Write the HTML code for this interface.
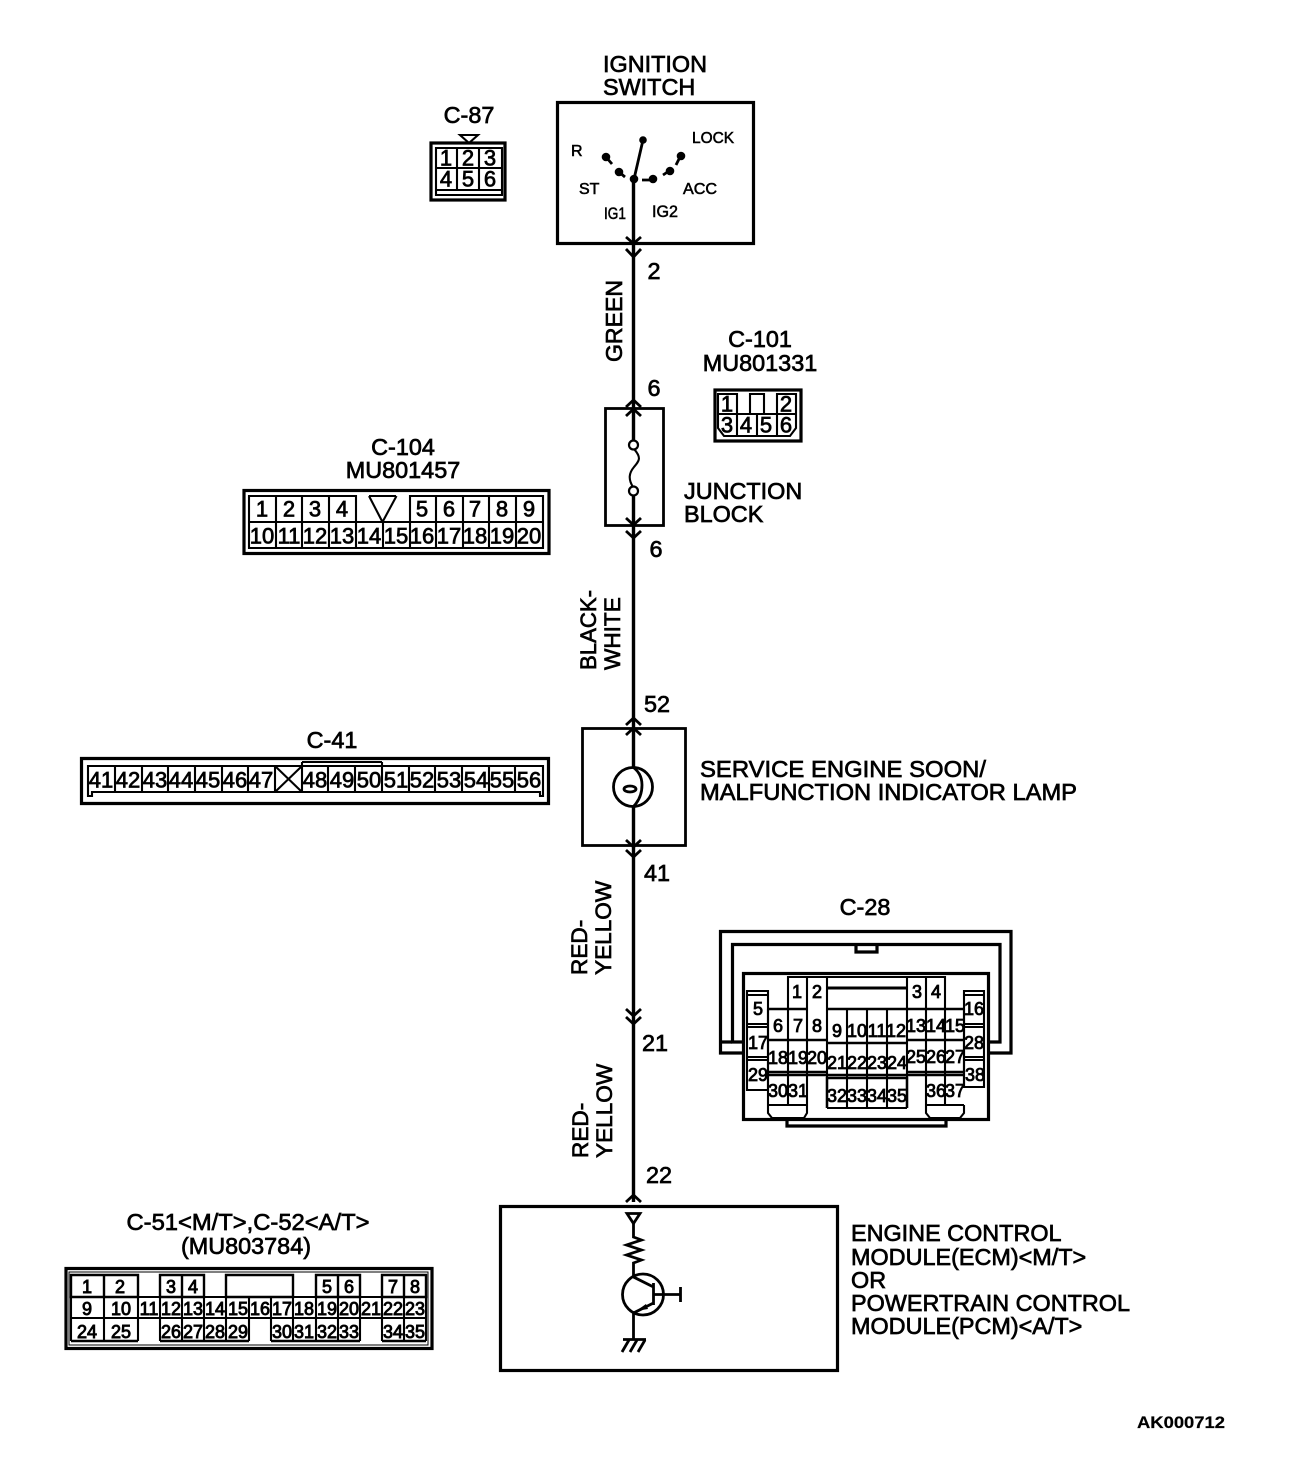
<!DOCTYPE html>
<html><head><meta charset="utf-8"><title>Diagram</title>
<style>
html,body{margin:0;padding:0;background:#fff}
svg{display:block}
text{font-family:"Liberation Sans",sans-serif;fill:#000;stroke:#000;stroke-width:.7px}
.l{font-size:23.4px}
.r{font-size:22.6px}
.m{font-size:16px;stroke-width:.55px}
.c text{font-size:22px;text-anchor:middle;dominant-baseline:central;stroke-width:.75px}
.s text{font-size:18px;text-anchor:middle;dominant-baseline:central;stroke-width:.9px}
.t text{font-size:18px;text-anchor:middle;dominant-baseline:central;stroke-width:.85px}
.a{text-anchor:middle}
.w{fill:none;stroke:#000;stroke-width:2.8}
.g{fill:none;stroke:#000;stroke-width:2.1}
.b{fill:none;stroke:#000;stroke-width:3.2}
</style></head><body>
<svg width="1312" height="1466" viewBox="0 0 1312 1466" xmlns="http://www.w3.org/2000/svg">
<rect width="1312" height="1466" fill="#fff"/>

<!-- main wire -->
<path d="M633.500 179V1202" stroke="#000" stroke-width="3.4" fill="none"/>
<g class="w">
<path d="M626 237l7.500 6.500 7.500-6.500M626 249l7.500 8 7.500-8"/>
<path d="M626 407l7.500-7 7.500 7M626 416l7.500-7 7.500 7"/>
<path d="M626 518l7.500 7 7.500-7M626 531l7.500 7 7.500-7"/>
<path d="M626 725l7.500-7 7.500 7M626 735l7.500-7 7.500 7"/>
<path d="M626 840l7.500 7 7.500-7M626 850l7.500 7 7.500-7"/>
<path d="M626 1009l7.500 7 7.500-7M626 1017l7.500 7 7.500-7"/>
<path d="M626 1202l7.500-7 7.500 7"/>
</g>

<!-- Ignition switch -->
<text class="l" x="603" y="72">IGNITION</text>
<text class="l" x="603" y="95">SWITCH</text>
<rect x="557.500" y="102.500" width="196" height="141" class="b"/>
<g fill="#000">
<circle cx="643" cy="140" r="3.800"/><circle cx="606" cy="157" r="4.300"/><circle cx="619" cy="172" r="4.300"/>
<circle cx="634" cy="179" r="4.300"/><circle cx="653" cy="179" r="4.300"/><circle cx="670" cy="171" r="4.300"/><circle cx="681" cy="156" r="4.300"/>
</g>
<path d="M634 179L643 140M606 157l6 7M619 172l6 5M642 180h8M663 175l6-4M676 165l3-6" class="w"/>
<text class="m" x="571" y="156">R</text>
<text class="m" x="692" y="143" textLength="42" lengthAdjust="spacingAndGlyphs">LOCK</text>
<text class="m" x="579" y="194">ST</text>
<text class="m" x="683" y="194" textLength="34" lengthAdjust="spacingAndGlyphs">ACC</text>
<text class="m" x="604" y="219" textLength="22" lengthAdjust="spacingAndGlyphs" style="font-size:17px">IG1</text>
<text class="m" x="652" y="217" textLength="26" lengthAdjust="spacingAndGlyphs" style="font-size:17px">IG2</text>

<!-- C-87 -->
<text class="l a" x="469" y="123">C-87</text>
<path d="M460 135h18l-9 8z" class="g"/>
<rect x="431" y="143" width="74" height="57" class="b"/>
<path d="M436 148h66v47h-66zM436 168h66M436 190h66M457 148v42M479 148v42" class="g"/>
<g class="c">
<text x="446" y="158">1</text><text x="468" y="158">2</text><text x="490" y="158">3</text>
<text x="446" y="179">4</text><text x="468" y="179">5</text><text x="490" y="179">6</text>
</g>

<!-- wire labels -->
<text class="l a" x="654" y="279">2</text>
<text class="l" transform="translate(622 362) rotate(-90)" textLength="82" lengthAdjust="spacingAndGlyphs">GREEN</text>
<text class="l a" x="654" y="396">6</text>
<text class="l a" x="656" y="557">6</text>
<text class="r" transform="translate(596 670) rotate(-90)" textLength="80" lengthAdjust="spacingAndGlyphs">BLACK-</text>
<text class="r" transform="translate(620 670) rotate(-90)">WHITE</text>
<text class="l a" x="657" y="712">52</text>
<text class="l a" x="657" y="881">41</text>
<text class="r" transform="translate(587 975) rotate(-90)">RED-</text>
<text class="r" transform="translate(611 975) rotate(-90)">YELLOW</text>
<text class="l a" x="655" y="1051">21</text>
<text class="r" transform="translate(588 1158) rotate(-90)">RED-</text>
<text class="r" transform="translate(612 1158) rotate(-90)">YELLOW</text>
<text class="l a" x="659" y="1183">22</text>

<!-- C-101 -->
<text class="l a" x="760" y="347">C-101</text>
<text class="l a" x="760" y="371">MU801331</text>
<rect x="715" y="390" width="86" height="51" class="b"/>
<path d="M718 394h19v20h-19zM750 414v-20h14v20M777 414v-20h19v20M718 414h78M718 414v14l6 8h66l6-8v-14M737 414v22M757 414v22M777 414v22" class="g"/>
<g class="c">
<text x="727" y="404">1</text><text x="786" y="404">2</text>
<text x="727" y="425">3</text><text x="746" y="425">4</text><text x="766" y="425">5</text><text x="786" y="425">6</text>
</g>

<!-- Junction block -->
<rect x="605.500" y="408.500" width="58" height="117" class="w"/>
<rect x="630" y="449" width="7" height="39" fill="#fff"/>
<path d="M634 449c8 9 5 12 0 18s-6 12-1 20" class="g"/>
<circle cx="633.500" cy="445" r="4.500" fill="#fff" stroke="#000" stroke-width="2.200"/>
<circle cx="633.500" cy="491" r="4.500" fill="#fff" stroke="#000" stroke-width="2.200"/>
<text class="l" x="684" y="499">JUNCTION</text>
<text class="l" x="684" y="522">BLOCK</text>

<!-- C-104 -->
<text class="l a" x="403" y="455">C-104</text>
<text class="l a" x="403" y="478">MU801457</text>
<rect x="244" y="490.500" width="305" height="63" class="b"/>
<path d="M249 522V496H356V522M410 522V496H543V522M249 522h294v26H249zM369 496h27M369 496l13.500 26 14-26M276 496v52M302 496v52M329 496v52M356 522v26M383 522v26M410 522v26M436 496v52M463 496v52M489 496v52M516 496v52" class="g"/>
<g class="c">
<text x="262" y="509">1</text><text x="289" y="509">2</text><text x="315" y="509">3</text><text x="342" y="509">4</text>
<text x="422" y="509">5</text><text x="449" y="509">6</text><text x="475" y="509">7</text><text x="502" y="509">8</text><text x="529" y="509">9</text>
<text x="262" y="536">10</text><text x="289" y="536">11</text><text x="315" y="536">12</text><text x="342" y="536">13</text><text x="369" y="536">14</text><text x="396" y="536">15</text><text x="422" y="536">16</text><text x="449" y="536">17</text><text x="475" y="536">18</text><text x="502" y="536">19</text><text x="529" y="536">20</text>
</g>

<!-- C-41 -->
<text class="l a" x="332" y="748">C-41</text>
<path d="M81.500 758.500h467v45h-467z" class="b"/>
<path d="M88 766h455v30h-3v-4H92v4h-4z" class="g"/>
<path d="M115 766v26M142 766v26M168 766v26M195 766v26M222 766v26M248 766v26M275 766v26M302 762v30M328 766v26M355 766v26M382 762v30M409 766v26M435 766v26M462 766v26M489 766v26M515 766v26M302 762h80M275 766l27 26M302 766l-27 26" class="g"/>
<g class="c">
<text x="101" y="780">41</text><text x="128" y="780">42</text><text x="155" y="780">43</text><text x="181" y="780">44</text><text x="208" y="780">45</text><text x="235" y="780">46</text><text x="261" y="780">47</text>
<text x="315" y="780">48</text><text x="342" y="780">49</text><text x="369" y="780">50</text><text x="396" y="780">51</text><text x="422" y="780">52</text><text x="449" y="780">53</text><text x="476" y="780">54</text><text x="502" y="780">55</text><text x="529" y="780">56</text>
</g>

<!-- Lamp -->
<rect x="582.500" y="728.500" width="103" height="117" class="w"/>
<circle cx="633" cy="787" r="19.500" fill="#fff" stroke="#000" stroke-width="2.800"/>
<path d="M633 767c5 4 9 9 9 18s-3 16-9 22" fill="none" stroke="#000" stroke-width="2.800"/>
<ellipse cx="630" cy="789" rx="6" ry="3" fill="none" stroke="#000" stroke-width="2.800"/>
<text class="l" x="700" y="777" textLength="286" lengthAdjust="spacingAndGlyphs">SERVICE ENGINE SOON/</text>
<text class="l" x="700" y="800" textLength="377" lengthAdjust="spacingAndGlyphs">MALFUNCTION INDICATOR LAMP</text>

<!-- C-28 -->
<text class="l a" x="865" y="915">C-28</text>
<path d="M732 1042H720.500V931.500H1011V1053H988M743 1053H720.500V1042" class="b"/>
<path d="M743 1042H732.500V944.500H1000V1042H989M856 945v7h21v-7" class="b"/>
<rect x="743.500" y="973.500" width="245" height="146" class="b"/>
<path d="M787 1120v6h159v-6" class="b"/>
<path d="M788 1009v-32h39v32M907 1009v-32h38v32M807 977v32M926 977v32M827 977h80M827 988h80" class="g"/>
<path d="M827 988h80" stroke="#000" stroke-width="3"/>
<path d="M768 1009h39M827 1009h118M945 1009h19" class="b" style="stroke-width:2.500"/>
<path d="M768 1040h59M907 1040h57M827 1043h80M768 1072h59M907 1072h57M827 1075h80M768 1075h59M907 1075h57" class="g" style="stroke-width:2.500"/>
<path d="M768 1009v96M788 1009v96M807 1009v96M827 1009v99M847 1009v99M867 1009v99M887 1009v99M907 1009v99M926 1009v96M945 1009v96M964 1009v78" class="g"/>
<path d="M768 1105h39M827 1108h80M926 1105h38M768 1105v8l4 5h32l3-5v-8M926 1105v8l4 5h30l4-5v-8" class="g"/>
<path d="M747 991h21v99h-21zM964 991h20v96h-20z" class="g"/>
<path d="M747 995h21M964 995h20M747 1024h21M964 1024h20M747 1027h21M964 1027h20M747 1057h21M964 1057h20M747 1060h21M964 1060h20" class="g"/>
<path d="M827 1108v-30h80v30" fill="none" stroke="#000" stroke-width="2.500"/>
<g class="t">
<text x="797" y="992">1</text><text x="817" y="992">2</text><text x="917" y="992">3</text><text x="936" y="992">4</text>
<text x="758" y="1009">5</text><text x="974" y="1009">16</text>
<text x="778" y="1026">6</text><text x="798" y="1026">7</text><text x="817" y="1026">8</text>
<text x="837" y="1031">9</text><text x="857" y="1031">10</text><text x="877" y="1031">11</text><text x="896" y="1031">12</text>
<text x="916" y="1026">13</text><text x="936" y="1026">14</text><text x="955" y="1026">15</text>
<text x="758" y="1043">17</text><text x="974" y="1043">28</text>
<text x="778" y="1058">18</text><text x="798" y="1058">19</text><text x="817" y="1058">20</text>
<text x="837" y="1063">21</text><text x="857" y="1063">22</text><text x="877" y="1063">23</text><text x="897" y="1063">24</text>
<text x="916" y="1057">25</text><text x="936" y="1057">26</text><text x="955" y="1057">27</text>
<text x="758" y="1075">29</text><text x="975" y="1075">38</text>
<text x="778" y="1091">30</text><text x="798" y="1091">31</text>
<text x="837" y="1096">32</text><text x="857" y="1096">33</text><text x="877" y="1096">34</text><text x="897" y="1096">35</text>
<text x="936" y="1091">36</text><text x="955" y="1091">37</text>
</g>

<!-- ECM -->
<rect x="500.500" y="1206.500" width="337" height="164" class="b"/>
<path d="M627 1213.500h13l-6.500 10z" class="w"/>
<path d="M633.500 1223v14l8 3-15 5 15 5-15 5 15 5-8 3v14" class="w"/>
<circle cx="643" cy="1294.500" r="20.500" class="w"/>
<path d="M633.500 1277l20 10M633.500 1313l20-10M653.500 1283v22M653.500 1294.500h27M680.500 1287v15M633.500 1313v26" class="w"/>
<path d="M636 1311l10-7 2 5z" fill="#000"/>
<path d="M623 1339.500h23M629 1340l-7 12M637 1340l-7 12M645 1340l-7 12" class="w"/>
<text class="l" x="851" y="1241">ENGINE CONTROL</text>
<text class="l" x="851" y="1265">MODULE(ECM)&lt;M/T&gt;</text>
<text class="l" x="851" y="1288">OR</text>
<text class="l" x="851" y="1311">POWERTRAIN CONTROL</text>
<text class="l" x="851" y="1334">MODULE(PCM)&lt;A/T&gt;</text>

<!-- C-51 -->
<text class="l a" x="248" y="1230" textLength="243" lengthAdjust="spacingAndGlyphs">C-51&lt;M/T&gt;,C-52&lt;A/T&gt;</text>
<text class="l a" x="246" y="1254">(MU803784)</text>
<rect x="66" y="1268.500" width="366" height="80" class="b"/>
<path d="M69 1272h359v73H69z" stroke="#000" stroke-width="1" fill="none"/>
<path d="M71 1275h67v22H71zM104 1275v22M160 1275h44v22h-44zM182 1275v22M226 1275h67v22h-67zM316 1275h44v22h-44zM338 1275v22M382 1275h44v22h-44zM404 1275v22" class="g" style="stroke-width:2.400"/>
<path d="M71 1297h355v21H71zM104 1297v44M138 1297v44M160 1297v44M182 1297v44M204 1297v44M226 1297v44M249 1297v44M271 1297v44M293 1297v44M316 1297v44M338 1297v44M360 1297v44M382 1297v44M404 1297v44M426 1318v23M71 1318v23" class="g"/>
<path d="M71 1341h67M160 1341h89M271 1341h89M382 1341h44" class="g" style="stroke-width:2.400"/>
<g class="s">
<text x="87" y="1287">1</text><text x="120" y="1287">2</text><text x="171" y="1287">3</text><text x="193" y="1287">4</text><text x="327" y="1287">5</text><text x="349" y="1287">6</text><text x="393" y="1287">7</text><text x="415" y="1287">8</text>
<text x="87" y="1309">9</text><text x="121" y="1309">10</text><text x="149" y="1309">11</text><text x="171" y="1309">12</text><text x="193" y="1309">13</text><text x="215" y="1309">14</text><text x="238" y="1309">15</text><text x="260" y="1309">16</text><text x="282" y="1309">17</text><text x="304" y="1309">18</text><text x="327" y="1309">19</text><text x="349" y="1309">20</text><text x="371" y="1309">21</text><text x="393" y="1309">22</text><text x="415" y="1309">23</text>
<text x="87" y="1332">24</text><text x="121" y="1332">25</text><text x="171" y="1332">26</text><text x="193" y="1332">27</text><text x="215" y="1332">28</text><text x="238" y="1332">29</text><text x="282" y="1332">30</text><text x="304" y="1332">31</text><text x="327" y="1332">32</text><text x="349" y="1332">33</text><text x="393" y="1332">34</text><text x="415" y="1332">35</text>
</g>

<text x="1137" y="1428" style="font-size:17px;font-weight:bold;stroke-width:.2px" textLength="88" lengthAdjust="spacingAndGlyphs">AK000712</text>
</svg>
</body></html>
